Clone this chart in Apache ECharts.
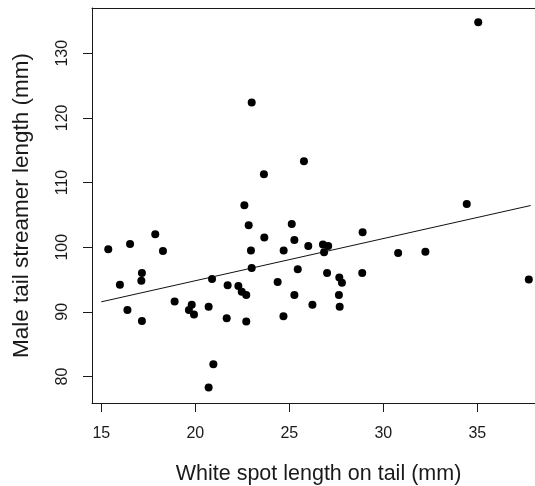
<!DOCTYPE html>
<html>
<head>
<meta charset="utf-8">
<script src="https://cdn.jsdelivr.net/npm/echarts@6/dist/echarts.min.js"></script>
<style>
  html, body { margin: 0; padding: 0; background: #fff; }
  #chart { width: 535px; height: 486px; }
</style>
</head>
<body>
<div id="chart"></div>
<script>
// White spot length on tail (mm) for each male
const spotLength = [
  15.37, 15.99, 16.53, 16.39, 17.16, 17.13, 17.16, 17.87, 18.28, 18.90,
  19.81, 19.66, 19.93, 20.71, 20.89, 20.96, 20.71, 21.72, 21.67, 22.29,
  22.47, 22.71, 22.71, 22.96, 23.00, 23.00, 23.65, 22.61, 22.84, 23.67,
  25.27, 26.01, 26.79, 27.07, 24.70, 26.85, 25.45, 27.01, 27.66, 27.80,
  24.38, 25.27, 27.64, 26.23, 27.68, 24.69, 25.78, 25.13, 28.90, 28.88,
  30.79, 32.24, 34.44, 35.05, 37.74
];

// Male tail streamer length (mm), same order as spotLength
const streamerLength = [
  99.7, 94.2, 100.5, 90.3, 96.0, 94.8, 88.6, 102.0, 99.4, 91.6,
  91.1, 90.3, 89.6, 90.8, 95.1, 81.9, 78.3, 94.1, 89.0, 94.0,
  93.1, 92.6, 88.5, 99.5, 96.8, 122.4, 111.3, 106.5, 103.4, 101.5,
  101.1, 100.2, 100.4, 100.2, 99.5, 99.2, 96.6, 96.0, 95.3, 94.5,
  94.6, 92.6, 92.6, 91.1, 90.8, 89.3, 113.3, 103.6, 102.3, 96.0,
  99.1, 99.3, 106.7, 134.8, 95.0
];

// Least-squares fit line end points
const fitX = [15.0, 37.84];
const fitY = [91.55, 106.45];

// Tick labels
const xTicks = [15, 20, 25, 30, 35];
const yTicks = [80, 90, 100, 110, 120, 130];

const points = spotLength.map((x, i) => [x, streamerLength[i]]);
const fitLine = fitX.map((x, i) => [x, fitY[i]]);

const FONT = '"Liberation Sans", Arial, sans-serif';
const INK = '#1a1a1a';
const X_MIN = 14.505, X_MAX = 38.07;

const chart = echarts.init(document.getElementById('chart'), null, { renderer: 'canvas' });
chart.setOption({
  animation: false,
  backgroundColor: '#fff',
  grid: { left: 92, top: 8, right: 0, bottom: 83, show: false, outerBoundsMode: 'none', containLabel: false },
  xAxis: [
    {
      type: 'value',
      position: 'bottom',
      min: X_MIN, max: X_MAX,
      name: 'White spot length on tail (mm)',
      nameLocation: 'middle',
      nameGap: 60,
      nameTextStyle: { fontFamily: FONT, fontSize: 21.5, color: INK, padding: [0, 0, 0, 10] },
      axisLine: { show: true, lineStyle: { color: INK, width: 1 } },
      axisTick: { show: true, inside: false, length: 9, customValues: xTicks, lineStyle: { color: INK } },
      axisLabel: { customValues: xTicks, margin: 23, fontFamily: FONT, fontSize: 16, color: INK },
      splitLine: { show: false }
    },
    {
      // top edge of the plot frame
      type: 'value',
      position: 'top',
      min: X_MIN, max: X_MAX,
      axisLine: { show: true, onZero: false, lineStyle: { color: INK, width: 1 } },
      axisTick: { show: false },
      axisLabel: { show: false },
      splitLine: { show: false }
    }
  ],
  yAxis: {
    type: 'value',
    min: 75.9, max: 137.0,
    name: 'Male tail streamer length (mm)',
    nameLocation: 'middle',
    nameRotate: 90,
    nameGap: 59,
    nameTextStyle: { fontFamily: FONT, fontSize: 22.5, color: INK },
    axisLine: { show: true, onZero: false, lineStyle: { color: INK, width: 1 } },
    axisTick: { show: true, inside: false, length: 9, customValues: yTicks, lineStyle: { color: INK } },
    axisLabel: { customValues: yTicks, rotate: 90, margin: 21, fontFamily: FONT, fontSize: 16, color: INK },
    splitLine: { show: false }
  },
  series: [
    {
      type: 'scatter',
      xAxisIndex: 0,
      data: points,
      symbol: 'circle',
      symbolSize: 8,
      itemStyle: { color: '#000', opacity: 1 },
      z: 3
    },
    {
      type: 'line',
      xAxisIndex: 0,
      data: fitLine,
      showSymbol: false,
      symbol: 'none',
      lineStyle: { color: '#111', width: 1 },
      z: 2
    }
  ]
});
</script>
</body>
</html>
